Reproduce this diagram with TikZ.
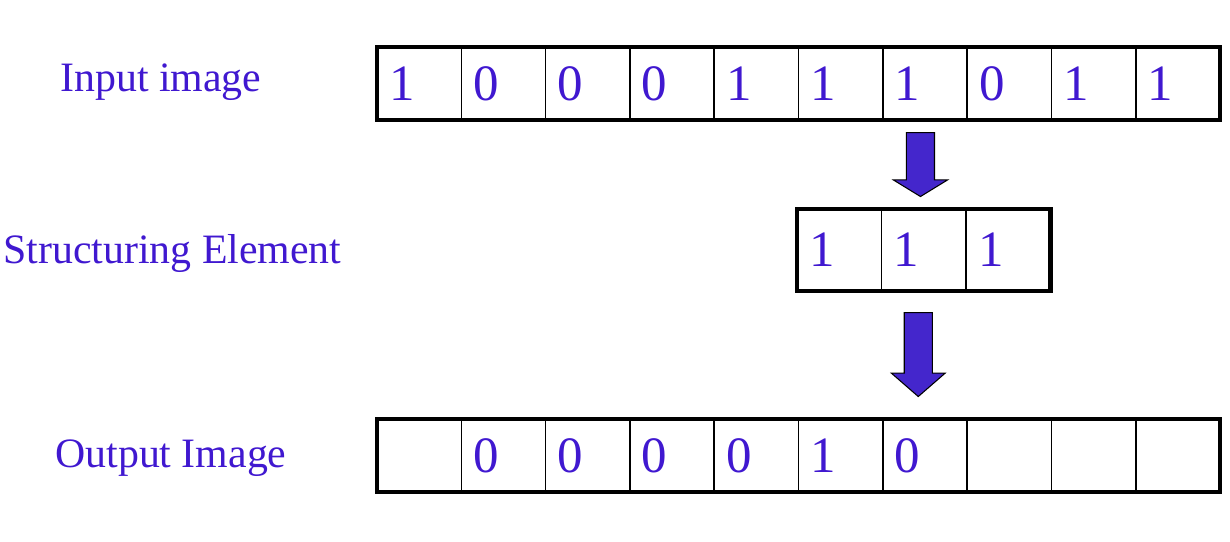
\documentclass[tikz,border=0pt]{standalone}
\usepackage{fontspec}
\setmainfont{Liberation Serif}
\usetikzlibrary{shapes,arrows,positioning}
\definecolor{pixblue}{RGB}{64,24,208}
\definecolor{arrblue}{RGB}{68,38,204}
\tikzstyle{cell} = [rectangle, draw, line width=0.9pt, minimum width=1.686cm, minimum height=1.46cm, text width=1.206cm, inner xsep=0.24cm, inner ysep=0pt, outer sep=0pt, align=left, text=pixblue, font=\fontsize{29}{32}\selectfont]
\tikzstyle{secell} = [cell, minimum width=1.69cm, text width=1.21cm, minimum height=1.64cm]
\tikzstyle{frame} = [draw, line width=2.5pt]
\tikzstyle{rowname} = [anchor=base west, inner sep=0pt, text=pixblue, font=\fontsize{23.8}{28}\selectfont]
\tikzstyle{bigarrow} = [single arrow, draw, line width=0.6pt, fill=arrblue, inner sep=0.27cm, minimum width=1.06cm, single arrow head extend=0.26cm, shape border rotate=270]

\begin{document}
\begin{tikzpicture}
        \useasboundingbox (0,0) rectangle (24.6,-10.82);

        % input row
        \node[cell, anchor=west] (in1) at (7.54,-1.67) {1};
        \foreach \v [count=\i from 2] in {0,0,0,1,1,1,0,1,1} {
          \pgfmathtruncatemacro\j{\i-1}
          \node[cell, right=0pt of in\j] (in\i) {\v};
        }
        \path[frame] (in1.north west) rectangle (in10.south east);

        % structuring element
        \node[secell, anchor=west] (se1) at (15.94,-5.0) {1};
        \node[secell, right=0pt of se1] (se2) {1};
        \node[secell, right=0pt of se2] (se3) {1};
        \path[frame] (se1.north west) rectangle (se3.south east);

        % output row
        \node[cell, anchor=west] (out1) at (7.54,-9.11) {};
        \foreach \v [count=\i from 2] in {0,0,0,0,1,0,{},{},{}} {
          \pgfmathtruncatemacro\j{\i-1}
          \node[cell, right=0pt of out\j] (out\i) {\v};
        }
        \path[frame] (out1.north west) rectangle (out10.south east);

        % arrows
        \node[bigarrow, minimum height=1.28cm, single arrow tip angle=117, below=0.24cm of in7, anchor=tail, xshift=-0.09cm] (arr1) {};
        \node[bigarrow, minimum height=1.68cm, single arrow tip angle=98, below=0.42cm of se2, anchor=tail, xshift=-0.11cm] (arr2) {};

        % row names
        \node[rowname] (inname)  at (1.2,-1.82)  {Input image};
        \node[rowname] (sename)  at (0.06,-5.26) {Structuring Element};
        \node[rowname] (outname) at (1.1,-9.34)  {Output Image};
\end{tikzpicture}
\end{document}
